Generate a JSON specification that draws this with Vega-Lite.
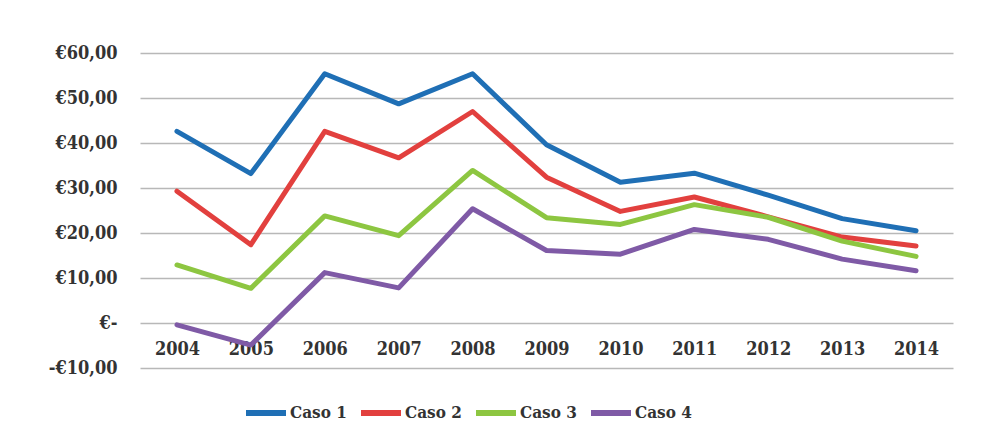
{
  "$schema": "https://vega.github.io/schema/vega-lite/v6.json",
  "width": 813,
  "height": 315,
  "autosize": {"type": "none"},
  "padding": {"left": 140, "top": 53, "right": 30, "bottom": 76},
  "background": "white",
  "data": {
    "values": [
      {"year": "2004", "serie": "Caso 1", "valor": 42.6},
      {"year": "2005", "serie": "Caso 1", "valor": 33.2},
      {"year": "2006", "serie": "Caso 1", "valor": 55.4},
      {"year": "2007", "serie": "Caso 1", "valor": 48.7},
      {"year": "2008", "serie": "Caso 1", "valor": 55.4},
      {"year": "2009", "serie": "Caso 1", "valor": 39.6},
      {"year": "2010", "serie": "Caso 1", "valor": 31.3},
      {"year": "2011", "serie": "Caso 1", "valor": 33.3},
      {"year": "2012", "serie": "Caso 1", "valor": 28.4},
      {"year": "2013", "serie": "Caso 1", "valor": 23.2},
      {"year": "2014", "serie": "Caso 1", "valor": 20.5},
      {"year": "2004", "serie": "Caso 2", "valor": 29.3},
      {"year": "2005", "serie": "Caso 2", "valor": 17.4},
      {"year": "2006", "serie": "Caso 2", "valor": 42.6},
      {"year": "2007", "serie": "Caso 2", "valor": 36.7},
      {"year": "2008", "serie": "Caso 2", "valor": 47.0},
      {"year": "2009", "serie": "Caso 2", "valor": 32.4},
      {"year": "2010", "serie": "Caso 2", "valor": 24.8},
      {"year": "2011", "serie": "Caso 2", "valor": 28.0},
      {"year": "2012", "serie": "Caso 2", "valor": 23.6},
      {"year": "2013", "serie": "Caso 2", "valor": 19.1},
      {"year": "2014", "serie": "Caso 2", "valor": 17.1},
      {"year": "2004", "serie": "Caso 3", "valor": 12.9},
      {"year": "2005", "serie": "Caso 3", "valor": 7.7},
      {"year": "2006", "serie": "Caso 3", "valor": 23.8},
      {"year": "2007", "serie": "Caso 3", "valor": 19.4},
      {"year": "2008", "serie": "Caso 3", "valor": 33.9},
      {"year": "2009", "serie": "Caso 3", "valor": 23.4},
      {"year": "2010", "serie": "Caso 3", "valor": 21.9},
      {"year": "2011", "serie": "Caso 3", "valor": 26.3},
      {"year": "2012", "serie": "Caso 3", "valor": 23.5},
      {"year": "2013", "serie": "Caso 3", "valor": 18.2},
      {"year": "2014", "serie": "Caso 3", "valor": 14.8},
      {"year": "2004", "serie": "Caso 4", "valor": -0.4},
      {"year": "2005", "serie": "Caso 4", "valor": -4.9},
      {"year": "2006", "serie": "Caso 4", "valor": 11.2},
      {"year": "2007", "serie": "Caso 4", "valor": 7.8},
      {"year": "2008", "serie": "Caso 4", "valor": 25.4},
      {"year": "2009", "serie": "Caso 4", "valor": 16.1},
      {"year": "2010", "serie": "Caso 4", "valor": 15.3},
      {"year": "2011", "serie": "Caso 4", "valor": 20.8},
      {"year": "2012", "serie": "Caso 4", "valor": 18.6},
      {"year": "2013", "serie": "Caso 4", "valor": 14.2},
      {"year": "2014", "serie": "Caso 4", "valor": 11.6}
    ]
  },
  "mark": {"type": "line", "strokeWidth": 5, "strokeCap": "round", "strokeJoin": "round"},
  "encoding": {
    "x": {
      "field": "year",
      "type": "ordinal",
      "scale": {"type": "point", "padding": 0.5},
      "axis": {
        "title": null,
        "orient": "bottom",
        "offset": -45,
        "domain": false,
        "ticks": false,
        "grid": false,
        "labelAngle": 0,
        "labelPadding": 17,
        "labelFont": "DejaVu Serif Condensed",
        "labelFontWeight": "bold",
        "labelFontSize": 18,
        "labelColor": "#333333"
      }
    },
    "y": {
      "field": "valor",
      "type": "quantitative",
      "scale": {"domain": [-10, 60], "nice": false},
      "axis": {
        "title": null,
        "values": [-10, 0, 10, 20, 30, 40, 50, 60],
        "domain": false,
        "ticks": false,
        "grid": true,
        "gridColor": "#b8b8b8",
        "gridWidth": 1.5,
        "labelPadding": 23,
        "labelFont": "DejaVu Serif Condensed",
        "labelFontWeight": "bold",
        "labelFontSize": 18,
        "labelColor": "#333333",
        "labelExpr": "datum.value == 0 ? '€-' : (datum.value < 0 ? '-' : '') + '€' + replace(format(abs(datum.value), '.2f'), '.', ',')"
      }
    },
    "color": {
      "field": "serie",
      "type": "nominal",
      "scale": {
        "domain": ["Caso 1", "Caso 2", "Caso 3", "Caso 4"],
        "range": ["#1f6fb5", "#e2403e", "#8dc641", "#7f5aa6"]
      },
      "legend": {
        "title": null,
        "orient": "none",
        "direction": "horizontal",
        "legendX": 103,
        "legendY": 337,
        "symbolType": "stroke",
        "symbolSize": 1600,
        "symbolStrokeWidth": 6,
        "labelFont": "DejaVu Serif Condensed",
        "labelFontWeight": "bold",
        "labelFontSize": 17,
        "labelColor": "#333333",
        "labelOffset": 1,
        "columnPadding": 2
      }
    }
  },
  "config": {"view": {"stroke": null}}
}
